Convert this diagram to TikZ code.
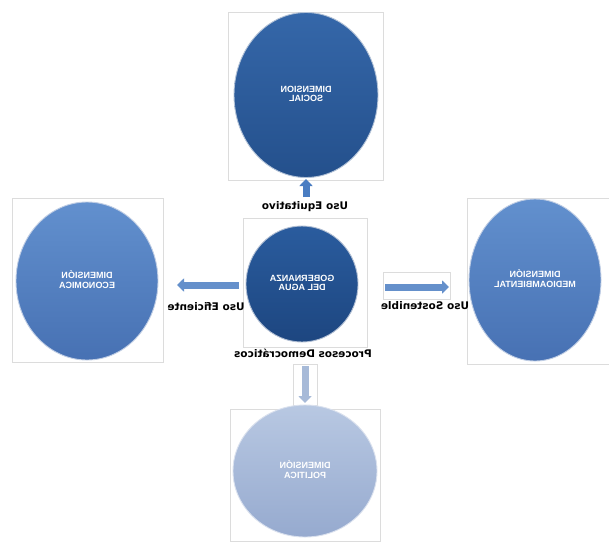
\documentclass[tikz,border=0pt]{standalone}
\usepackage{fontspec}
\usepackage{graphicx}
\setmainfont{Liberation Sans}
\newfontfamily\lblfont{DejaVu Sans}
\usetikzlibrary{arrows.meta,shapes.geometric}
\definecolor{framegray}{HTML}{DCDCDC}
\definecolor{socialA}{HTML}{3567A9}
\definecolor{socialB}{HTML}{24508C}
\definecolor{centerA}{HTML}{2A5C9E}
\definecolor{centerB}{HTML}{1D4680}
\definecolor{sideA}{HTML}{6290CE}
\definecolor{sideB}{HTML}{4771B3}
\definecolor{polA}{HTML}{B8C8E2}
\definecolor{polB}{HTML}{96AACF}
\definecolor{arrowblue}{HTML}{4A7DC2}
\definecolor{arrowlight}{HTML}{A7BAD8}
\newcommand{\mirtxt}[1]{\reflectbox{#1}}
\newcommand{\twolines}[2]{\mirtxt{\begin{tabular}{@{}c@{}}#1\\#2\end{tabular}}}
\begin{document}
\begin{tikzpicture}[x=1pt,y=-1pt,
  frame/.style={draw=framegray, line width=0.6pt},
  disc/.style={ellipse, draw=white!65!#1, line width=0.9pt, inner sep=0pt,
    text=white, font=\bfseries\fontsize{9}{9.5}\selectfont},
  lbl/.style={font=\lblfont\bfseries\fontsize{10.5}{12}\selectfont, inner sep=0pt},
  blockarrow/.style={draw=#1, line width=7pt, -{Triangle[length=7pt,width=13pt]}}
]
\useasboundingbox (0,0) rectangle (609,552);
\fill[white] (0,0) rectangle (609,552);
% frames
\draw[frame] (228,12) rectangle (383,180);
\draw[frame] (243,218) rectangle (367,347);
\draw[frame] (12,198) rectangle (163,362);
\draw[frame] (467,198) rectangle (612,364);
\draw[frame] (230,409) rectangle (380,541);
\draw[frame] (383,272) rectangle (450,299);
\draw[frame] (293,364) rectangle (317,405);
% discs
\node[disc=socialB, top color=socialA, bottom color=socialB, minimum width=144pt, minimum height=165pt] (social) at (306,95) {\twolines{DIMENSION}{SOCIAL}};
\node[disc=centerB, top color=centerA, bottom color=centerB, minimum width=112pt, minimum height=116pt] (gob) at (302,284) {\twolines{GOBERNANZA}{DEL AGUA}};
\node[disc=sideB, top color=sideA, bottom color=sideB, minimum width=142pt, minimum height=158pt] (eco) at (87,281) {\twolines{DIMENSIÓN}{ECONOMICA}};
\node[disc=sideB, top color=sideA, bottom color=sideB, minimum width=132pt, minimum height=162pt] (med) at (535,280) {\twolines{DIMENSIÓN}{MEDIOAMBIENTAL}};
\node[disc=polB, top color=polA, bottom color=polB, minimum width=144pt, minimum height=132pt] (pol) at (305,471) {\twolines{DIMENSIÓN}{POLITICA}};
% arrows
\coordinate (upA) at (306,197);
\coordinate (upB) at (306,179);
\coordinate (leA) at (239,285);
\coordinate (leB) at (177,285);
\coordinate (riA) at (385,287);
\coordinate (riB) at (449,287);
\coordinate (doA) at (305,366);
\coordinate (doB) at (305,403);
\draw[blockarrow=arrowblue] (upA) -- (upB);
\draw[blockarrow=arrowblue!85] (leA) -- (leB);
\draw[blockarrow=arrowblue!85] (riA) -- (riB);
\draw[blockarrow=arrowlight] (doA) -- (doB);
% labels
\node[lbl] (lEq) at (305,207) {\mirtxt{Uso Equitativo}};
\node[lbl] (lEf) at (206,307) {\mirtxt{Uso Eficiente}};
\node[lbl] (lSo) at (425,306) {\mirtxt{Uso Sostenible}};
\node[lbl] (lPr) at (303,353) {\mirtxt{Procesos Democráticos}};
\end{tikzpicture}
\end{document}
